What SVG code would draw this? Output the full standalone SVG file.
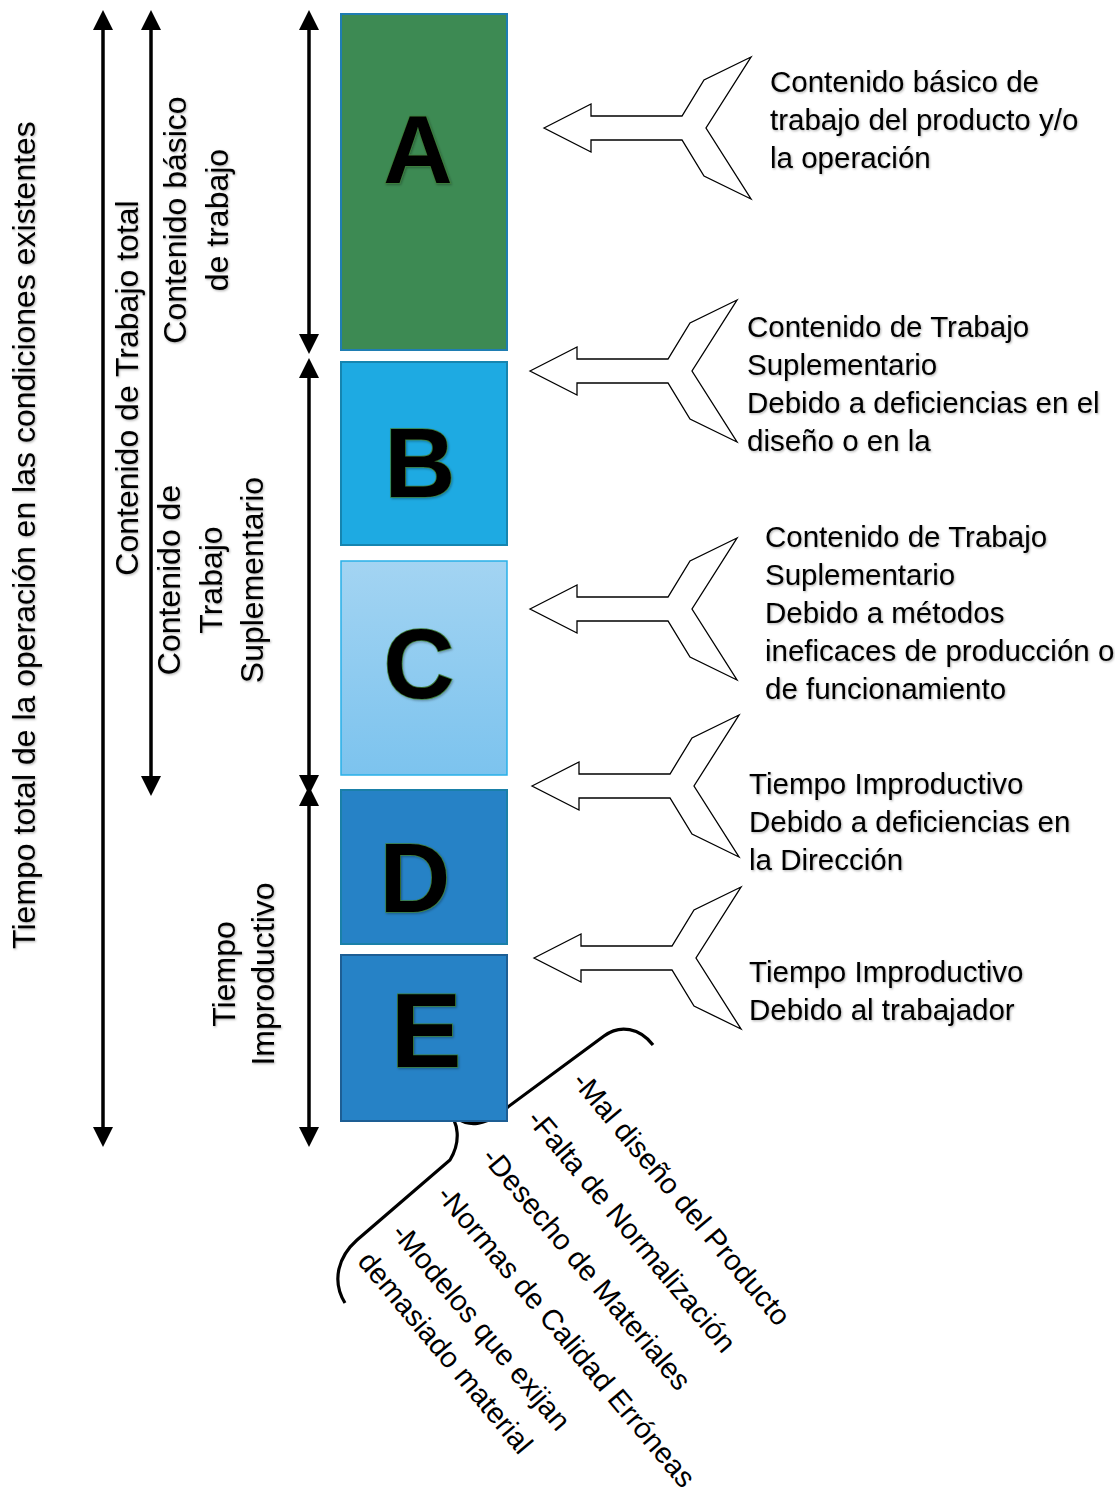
<svg xmlns="http://www.w3.org/2000/svg" width="1115" height="1492" viewBox="0 0 1115 1492">
<style>
.t{font-family:"Liberation Sans",Arial,sans-serif;fill:#000}
.r{font-size:29.5px;filter:url(#sh)}
.l{font-size:32px;filter:url(#sh)}
.b{font-size:29px}
.big{font-family:"Liberation Sans",Arial,sans-serif;font-weight:bold;fill:#000;stroke:#3f7f3a;stroke-width:1.6;paint-order:stroke;text-anchor:middle;filter:url(#sh)}
.dim{stroke:#000;stroke-width:3.5;fill:none;marker-start:url(#ah);marker-end:url(#ah)}
.fat{fill:#fff;stroke:#000;stroke-width:1.3;stroke-linejoin:miter}
</style>
<defs>
<filter id="sh" x="-5%" y="-20%" width="110%" height="140%">
<feDropShadow dx="1" dy="1.2" stdDeviation="0.9" flood-color="#000" flood-opacity="0.3"/>
</filter>
<marker id="ah" markerUnits="userSpaceOnUse" markerWidth="20" markerHeight="20" refX="0" refY="8" orient="auto-start-reverse" viewBox="0 0 16 16">
<path d="M0,0 L16,8 L0,16 Z" fill="#000"/>
</marker>
<path id="fa" d="M0,0 L47,-24 L47,-12 L138,-12 L160,-48 L207,-71 L162,0 L207,71 L160,48 L138,12 L47,12 L47,24 Z"/>
<linearGradient id="gc" x1="0" y1="0" x2="0" y2="1">
<stop offset="0" stop-color="#a3d4f2"/>
<stop offset="1" stop-color="#7cc3ee"/>
</linearGradient>
</defs>

<g id="connectors">
<path class="dim" d="M103,30 L103,1127"/>
<path class="dim" d="M151,30 L151,776"/>
<path class="dim" d="M309,30 L309,334"/>
<path class="dim" d="M309,378 L309,775"/>
<path class="dim" d="M309,806 L309,1127"/>
<use href="#fa" class="fat" transform="translate(544,128)"/>
<use href="#fa" class="fat" transform="translate(530,371)"/>
<use href="#fa" class="fat" transform="translate(530,609)"/>
<use href="#fa" class="fat" transform="translate(532,786)"/>
<use href="#fa" class="fat" transform="translate(534,958)"/>
<path d="M653,1045 C640,1028 620,1024 604,1036 L497,1115 C485,1124 470,1127 458,1119 L447,1110 C459,1122 461,1142 450,1160 L357,1240 C339,1256 331,1280 345,1303" fill="none" stroke="#000" stroke-width="3.2"/>
</g>

<g id="boxA">
<rect x="341" y="14" width="166" height="336" fill="#3d8a53" stroke="#1f7db2" stroke-width="2"/>
<text class="big" x="418" y="183" font-size="96">A</text>
</g>
<g id="boxB">
<rect x="341" y="362" width="166" height="183" fill="#1eaae2" stroke="#1585b0" stroke-width="2"/>
<text class="big" x="420" y="497" font-size="98">B</text>
</g>
<g id="boxC">
<rect x="341" y="561" width="166" height="214" fill="url(#gc)" stroke="#28b0e8" stroke-width="1.5"/>
<text class="big" x="419" y="698" font-size="98">C</text>
</g>
<g id="boxD">
<rect x="341" y="790" width="166" height="154" fill="#2682c6" stroke="#1a80a8" stroke-width="2"/>
<text class="big" x="415" y="912" font-size="98">D</text>
</g>
<g id="boxE">
<rect x="341" y="955" width="166" height="166" fill="#2682c6" stroke="#1d5e94" stroke-width="2"/>
<text class="big" x="426" y="1067" font-size="106" stroke="#1d5e94" stroke-width="1">E</text>
</g>

<g id="leftLabels" class="t l" text-anchor="middle">
<text transform="translate(35,535) rotate(-90)">Tiempo total de la operación en las condiciones existentes</text>
<text transform="translate(138,388) rotate(-90)">Contenido de Trabajo total</text>
<text transform="translate(186,220) rotate(-90)">Contenido básico</text>
<text transform="translate(228,220) rotate(-90)">de trabajo</text>
<text transform="translate(180,580) rotate(-90)">Contenido de</text>
<text transform="translate(222,580) rotate(-90)">Trabajo</text>
<text transform="translate(263,580) rotate(-90)">Suplementario</text>
<text transform="translate(235,974) rotate(-90)">Tiempo</text>
<text transform="translate(274,974) rotate(-90)">Improductivo</text>
</g>

<g id="labelA" class="t r">
<text x="770" y="92">Contenido básico de</text>
<text x="770" y="130">trabajo del producto y/o</text>
<text x="770" y="168">la operación</text>
</g>
<g id="labelB" class="t r">
<text x="747" y="337">Contenido de Trabajo</text>
<text x="747" y="375">Suplementario</text>
<text x="747" y="413">Debido a deficiencias en el</text>
<text x="747" y="451">diseño o en la</text>
</g>
<g id="labelC" class="t r">
<text x="765" y="547">Contenido de Trabajo</text>
<text x="765" y="585">Suplementario</text>
<text x="765" y="623">Debido a métodos</text>
<text x="765" y="661">ineficaces de producción o</text>
<text x="765" y="699">de funcionamiento</text>
</g>
<g id="labelD" class="t r">
<text x="749" y="794">Tiempo Improductivo</text>
<text x="749" y="832">Debido a deficiencias en</text>
<text x="749" y="870">la Dirección</text>
</g>
<g id="labelE" class="t r">
<text x="749" y="982">Tiempo Improductivo</text>
<text x="749" y="1020">Debido al trabajador</text>
</g>

<g id="causes" class="t b" transform="translate(571,1082) rotate(50)">
<text x="0" y="0">-Mal diseño del Producto</text>
<text x="0" y="59">-Falta de Normalización</text>
<text x="0" y="118">-Desecho de Materiales</text>
<text x="0" y="177">-Normas de Calidad Erróneas</text>
<text x="0" y="236">-Modelos que exijan</text>
<text x="0" y="280">demasiado material</text>
</g>
</svg>
